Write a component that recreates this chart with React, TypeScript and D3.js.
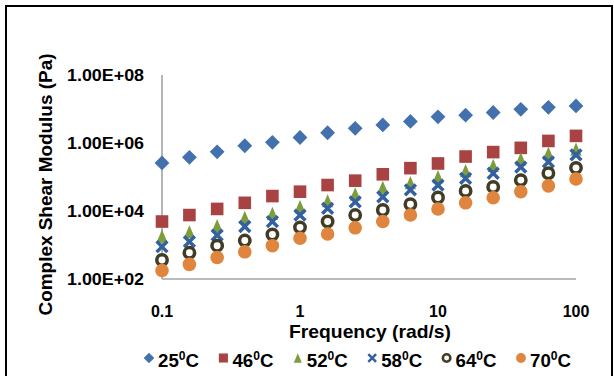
import React from "react";
import * as d3 from "d3";

const frequencies = [0.1, 0.158, 0.251, 0.398, 0.631, 1, 1.585, 2.512, 3.981, 6.31, 10, 15.85, 25.12, 39.81, 63.1, 100];
const yTicks = [1e2, 1e4, 1e6, 1e8];
const yTickLabels = ["1.00E+02", "1.00E+04", "1.00E+06", "1.00E+08"];
const xTicks = [0.1, 1, 10, 100];
const xTickLabels = ["0.1", "1", "10", "100"];

const s25 = [2.6e5, 3.8e5, 5.5e5, 8.3e5, 1.05e6, 1.45e6, 2.0e6, 2.7e6, 3.4e6, 4.3e6, 5.9e6, 6.6e6, 7.9e6, 9.8e6, 1.12e7, 1.23e7];
const s46 = [4.9e3, 7.6e3, 1.15e4, 1.74e4, 2.75e4, 3.7e4, 5.8e4, 7.8e4, 1.2e5, 1.82e5, 2.5e5, 4.0e5, 5.4e5, 7.2e5, 1.15e6, 1.62e6];
const s52 = [1.82e3, 2.45e3, 3.7e3, 6.5e3, 8.5e3, 1.35e4, 2.0e4, 3.2e4, 5.0e4, 6.8e4, 1.02e5, 1.55e5, 2.2e5, 3.4e5, 5.0e5, 6.6e5];
const s58 = [890, 1.26e3, 1.95e3, 3.5e3, 4.9e3, 7.6e3, 1.2e4, 1.86e4, 2.6e4, 4.2e4, 5.8e4, 9.1e4, 1.29e5, 1.95e5, 2.8e5, 4.5e5];
const s64 = [363, 590, 955, 1.35e3, 2.04e3, 3.3e3, 4.9e3, 7.6e3, 1.07e4, 1.58e4, 2.5e4, 3.9e4, 5.1e4, 8.1e4, 1.29e5, 1.86e5];
const s70 = [178, 270, 427, 630, 955, 1.58e3, 2.1e3, 3.2e3, 4.9e3, 7.6e3, 1.15e4, 1.74e4, 2.45e4, 3.7e4, 5.5e4, 8.7e4];

const seriesNames = ["25", "46", "52", "58", "64", "70"];
const seriesValues = [s25, s46, s52, s58, s64, s70];
const seriesShapes = ["diamond", "square", "triangle", "cross", "ring", "circle"];
const seriesColors = ["#4271ad", "#a94343", "#7d9c3c", "#3361a0", "#403c26", "#e0853d"];

const FONT = "'Liberation Sans', Arial, sans-serif";

function Marker({ shape, x, y, color, s }: { shape: string; x: number; y: number; color: string; s: number }) {
  switch (shape) {
    case "diamond": {
      const h = 7.4 * s;
      return <path d={`M${x},${y - h}L${x + h},${y}L${x},${y + h}L${x - h},${y}Z`} fill={color} />;
    }
    case "square": {
      const h = 6.3 * s;
      return <rect x={x - h} y={y - h} width={2 * h} height={2 * h} fill={color} />;
    }
    case "triangle": {
      const w = 5.6 * s;
      const h = 6.6 * s;
      return <path d={`M${x},${y - h}L${x + w},${y + h}L${x - w},${y + h}Z`} fill={color} />;
    }
    case "cross": {
      const h = 5.4 * s;
      return (
        <path
          d={`M${x - h},${y - h}L${x + h},${y + h}M${x - h},${y + h}L${x + h},${y - h}`}
          stroke={color}
          strokeWidth={3.5 * s}
          fill="none"
        />
      );
    }
    case "ring":
      return <circle cx={x} cy={y} r={5.2 * s} fill="white" stroke={color} strokeWidth={3.5 * s} />;
    default:
      return <circle cx={x} cy={y} r={6.8 * s} fill={color} />;
  }
}

const tickLen = (s: string) => s.length * 8.9 - (s.includes(".") ? 4.45 : 0);

export default function App() {
  const x = d3.scaleLog().domain([0.1, 100]).range([162, 576]);
  const y = d3.scaleLog().domain([1e2, 1e8]).range([279, 75]);
  const legendX0 = 149;
  const legendStep = 74.4;
  const legendY = 358;

  return (
    <svg
      width={614}
      height={376}
      style={{ position: "absolute", left: 0, top: 0, background: "white" }}
      fontFamily={FONT}
    >
      <rect x={0} y={0} width={614} height={376} fill="white" />
      <rect x={6} y={6} width={606} height={390} fill="none" stroke="#000" strokeWidth={2} />

      {/* axes */}
      <line x1={x(0.1)} x2={x(0.1)} y1={y(1e8)} y2={y(1e2)} stroke="#a3a3a3" strokeWidth={1.6} />
      <line x1={x(0.1)} x2={x(100)} y1={y(1e2)} y2={y(1e2)} stroke="#a3a3a3" strokeWidth={1.6} />

      {yTicks.map((t, i) => (
        <text
          key={t}
          x={144}
          y={y(t) + 5.8}
          textAnchor="end"
          fontSize={16}
          fontWeight="bold"
          fill="#000"
          textLength={77}
          lengthAdjust="spacingAndGlyphs"
        >
          {yTickLabels[i]}
        </text>
      ))}
      {xTicks.map((t, i) => (
        <text
          key={t}
          x={x(t)}
          y={317}
          textAnchor="middle"
          fontSize={16}
          fontWeight="bold"
          fill="#000"
          textLength={tickLen(xTickLabels[i])}
          lengthAdjust="spacingAndGlyphs"
        >
          {xTickLabels[i]}
        </text>
      ))}

      <text
        x={370}
        y={337.5}
        textAnchor="middle"
        fontSize={19}
        fontWeight="bold"
        fill="#000"
        textLength={162}
        lengthAdjust="spacingAndGlyphs"
      >
        Frequency (rad/s)
      </text>
      <text
        transform="translate(51.5,184.5) rotate(-90)"
        textAnchor="middle"
        fontSize={19}
        fontWeight="bold"
        fill="#000"
        textLength={262}
        lengthAdjust="spacingAndGlyphs"
      >
        Complex Shear Modulus (Pa)
      </text>

      {/* data */}
      {seriesValues.map((vals, si) => (
        <g key={si}>
          {vals.map((v, i) => (
            <Marker key={i} shape={seriesShapes[si]} x={x(frequencies[i])} y={y(v)} color={seriesColors[si]} s={1} />
          ))}
        </g>
      ))}

      {/* legend */}
      {seriesNames.map((n, i) => {
        const mx = legendX0 + i * legendStep;
        return (
          <g key={n}>
            <Marker shape={seriesShapes[i]} x={mx} y={legendY} color={seriesColors[i]} s={0.72} />
            <text
              x={mx + 9}
              y={366.5}
              fontSize={18.5}
              fontWeight="bold"
              fill="#000"
              textLength={41}
              lengthAdjust="spacingAndGlyphs"
            >
              {n}
              <tspan fontSize={12} dy={-7}>0</tspan>
              <tspan dy={7}>C</tspan>
            </text>
          </g>
        );
      })}
    </svg>
  );
}
